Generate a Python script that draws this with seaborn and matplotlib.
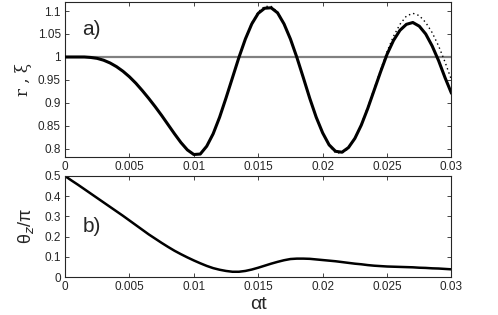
import numpy as np
import pandas as pd
import matplotlib
matplotlib.use('Agg')
import matplotlib.pyplot as plt
import seaborn as sns

# time axis (alpha t), sampled every 0.0005
t = [i * 0.0005 for i in range(61)]

# panel a) solid curve r
r_solid = [1.000, 1.000, 1.000, 1.000, 0.999, 0.997, 0.993, 0.987, 0.979, 0.969,
           0.957, 0.943, 0.927, 0.910, 0.892, 0.873, 0.853, 0.833, 0.814, 0.798,
           0.788, 0.789, 0.806, 0.833, 0.869, 0.911, 0.955, 0.999, 1.039, 1.072,
           1.095, 1.106, 1.107, 1.096, 1.072, 1.039, 0.999, 0.955, 0.910, 0.869,
           0.835, 0.809, 0.795, 0.793, 0.803, 0.823, 0.852, 0.888, 0.928, 0.968,
           1.006, 1.036, 1.058, 1.071, 1.075, 1.067, 1.050, 1.024, 0.992, 0.955,
           0.921]

# panel a) dotted curve xi
xi_dotted = [1.000, 1.000, 1.000, 1.000, 0.999, 0.997, 0.993, 0.987, 0.979, 0.969,
             0.957, 0.943, 0.927, 0.910, 0.892, 0.873, 0.853, 0.833, 0.814, 0.798,
             0.788, 0.789, 0.806, 0.833, 0.869, 0.911, 0.955, 0.999, 1.040, 1.074,
             1.098, 1.110, 1.110, 1.098, 1.073, 1.039, 0.999, 0.955, 0.910, 0.869,
             0.835, 0.807, 0.792, 0.791, 0.801, 0.823, 0.854, 0.891, 0.931, 0.972,
             1.012, 1.045, 1.071, 1.089, 1.095, 1.090, 1.075, 1.053, 1.024, 0.989,
             0.950]

# panel b) theta_z / pi
theta = [0.500, 0.478, 0.457, 0.435, 0.413, 0.391, 0.369, 0.347, 0.325, 0.303,
         0.280, 0.257, 0.234, 0.211, 0.190, 0.169, 0.149, 0.130, 0.113, 0.097,
         0.082, 0.068, 0.055, 0.044, 0.036, 0.030, 0.026, 0.026, 0.030, 0.037,
         0.046, 0.056, 0.066, 0.075, 0.083, 0.089, 0.091, 0.091, 0.090, 0.087,
         0.084, 0.081, 0.078, 0.074, 0.070, 0.066, 0.063, 0.059, 0.056, 0.054,
         0.052, 0.051, 0.050, 0.049, 0.048, 0.046, 0.045, 0.043, 0.042, 0.040,
         0.038]

xticks = [0, 0.005, 0.01, 0.015, 0.02, 0.025, 0.03]
xticklabels = ['0', '0.005', '0.01', '0.015', '0.02', '0.025', '0.03']
yticks_a = [0.8, 0.85, 0.9, 0.95, 1, 1.05, 1.1]
yticklabels_a = ['0.8', '0.85', '0.9', '0.95', '1', '1.05', '1.1']
yticks_b = [0, 0.1, 0.2, 0.3, 0.4, 0.5]
yticklabels_b = ['0', '0.1', '0.2', '0.3', '0.4', '0.5']

df = pd.DataFrame({'t': t, 'r': r_solid, 'xi': xi_dotted, 'theta': theta})

sns.set_style('ticks')
plt.rcParams['font.family'] = ['Liberation Sans', 'DejaVu Sans']
plt.rcParams['mathtext.fontset'] = 'dejavusans'

fig = plt.figure(figsize=(4.98, 3.15), dpi=100)
ax1 = fig.add_axes([0.1305, 0.5016, 0.7761, 0.4921])
ax2 = fig.add_axes([0.1305, 0.1206, 0.7761, 0.3207])

# panel a
ax1.axhline(1, color='#808080', lw=1.6, zorder=1)
sns.lineplot(data=df, x='t', y='xi', ax=ax1, color='black', lw=1.0,
             linestyle=(0, (1, 2.2)), zorder=2)
sns.lineplot(data=df, x='t', y='r', ax=ax1, color='black', lw=2.2, zorder=3)
ax1.set_xlim(0, 0.03)
ax1.set_ylim(0.7826, 1.1196)
ax1.set_xticks(xticks)
ax1.set_xticklabels(xticklabels)
ax1.set_yticks(yticks_a)
ax1.set_yticklabels(yticklabels_a)
ax1.set_xlabel('')
ax1.set_ylabel('r , \u03be', fontsize=12, family='DejaVu Serif', labelpad=4)
ax1.text(0.045, 0.79, 'a)', transform=ax1.transAxes, fontsize=15)

# panel b
sns.lineplot(data=df, x='t', y='theta', ax=ax2, color='black', lw=1.8)
ax2.set_xlim(0, 0.03)
ax2.set_ylim(0, 0.5)
ax2.set_xticks(xticks)
ax2.set_xticklabels(xticklabels)
ax2.set_yticks(yticks_b)
ax2.set_yticklabels(yticklabels_b)
ax2.set_xlabel('\u03b1t', fontsize=14, labelpad=2)
ax2.set_ylabel('\u03b8$_z$/\u03c0', fontsize=13, labelpad=6)
ax2.text(0.045, 0.45, 'b)', transform=ax2.transAxes, fontsize=15)

for ax in (ax1, ax2):
    ax.tick_params(direction='in', top=True, right=True, length=3,
                   width=0.6, labelsize=8.5, pad=3)
    for s in ax.spines.values():
        s.set_linewidth(0.8)
        s.set_visible(True)

fig.savefig('out.png', dpi=100)
